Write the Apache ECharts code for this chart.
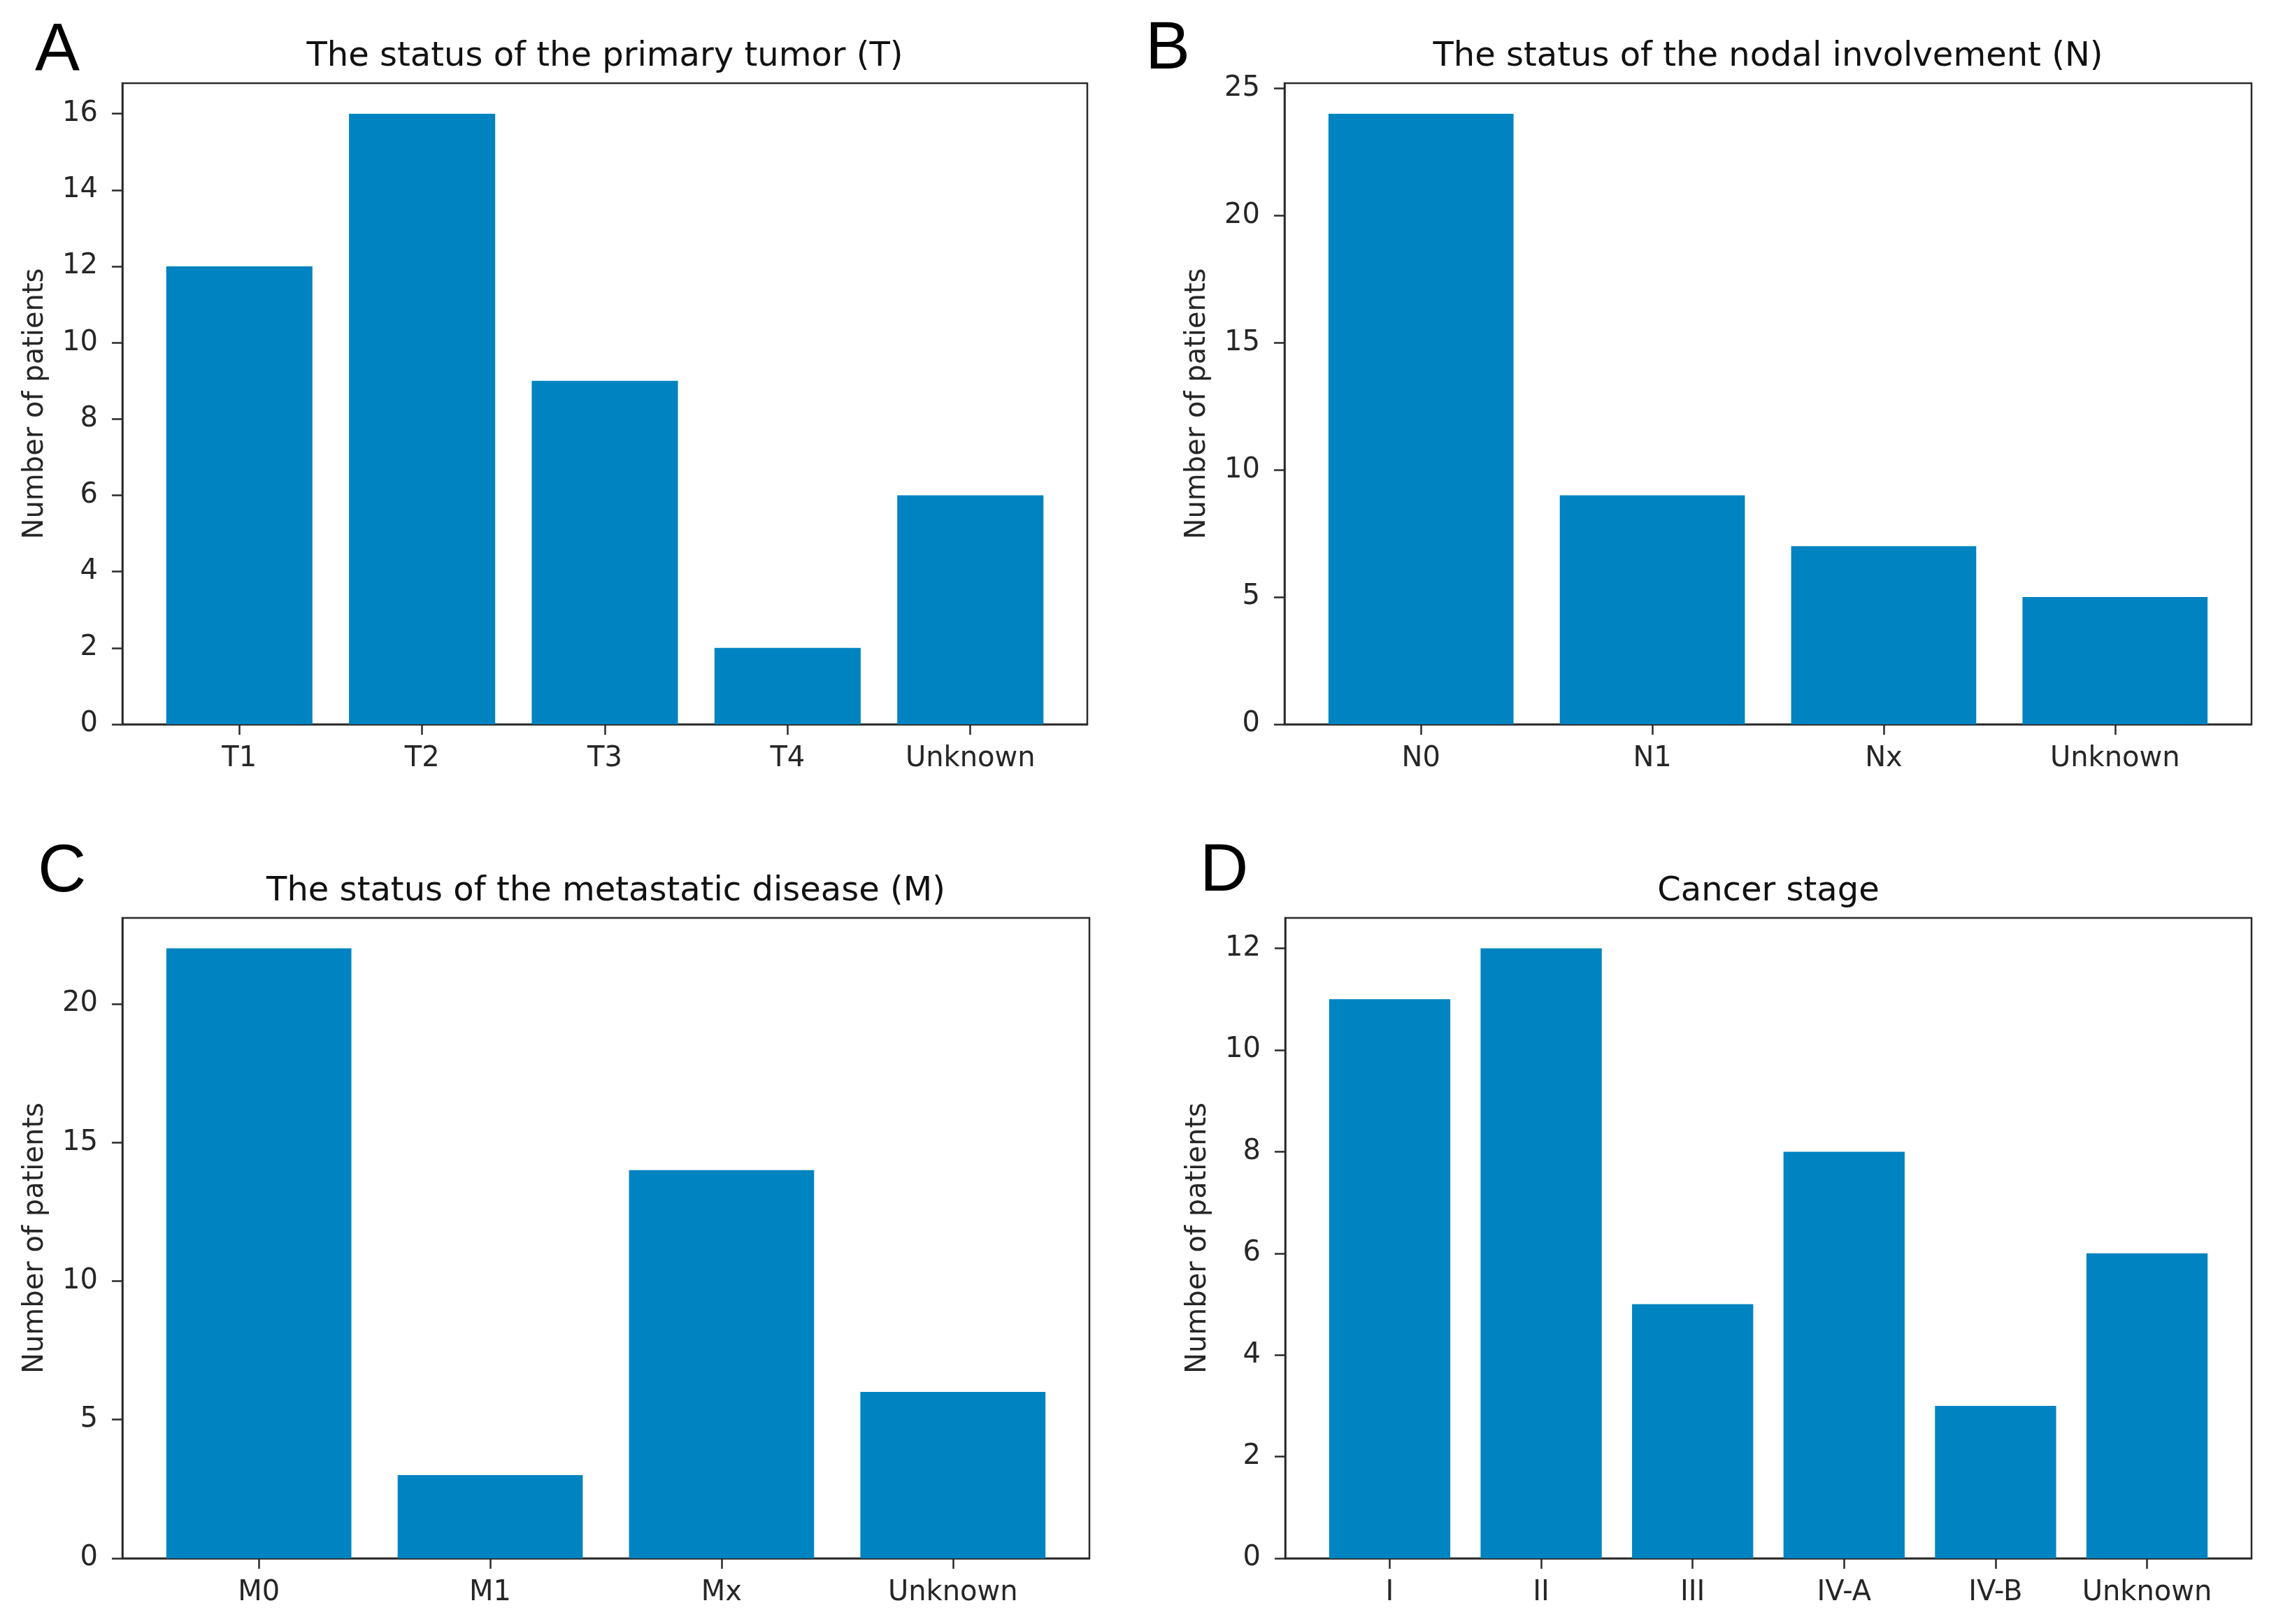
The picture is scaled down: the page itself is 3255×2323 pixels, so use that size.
<!DOCTYPE html>
<html>
<head>
<meta charset="utf-8">
<script src="https://cdn.jsdelivr.net/npm/echarts@6/dist/echarts.min.js"></script>
<style>
html,body{margin:0;padding:0;background:#fff;}
#chart{width:3255px;height:2323px;}
</style>
</head>
<body>
<div id="chart"></div>
<script>
// ---- Data ----
const tCategories = ['T1', 'T2', 'T3', 'T4', 'Unknown'];
const tValues = [12, 16, 9, 2, 6];
const tTicks = [0, 2, 4, 6, 8, 10, 12, 14, 16];

const nCategories = ['N0', 'N1', 'Nx', 'Unknown'];
const nValues = [24, 9, 7, 5];
const nTicks = [0, 5, 10, 15, 20, 25];

const mCategories = ['M0', 'M1', 'Mx', 'Unknown'];
const mValues = [22, 3, 14, 6];
const mTicks = [0, 5, 10, 15, 20];

const stageCategories = ['I', 'II', 'III', 'IV-A', 'IV-B', 'Unknown'];
const stageValues = [11, 12, 5, 8, 3, 6];
const stageTicks = [0, 2, 4, 6, 8, 10, 12];

const titles = [
  'The status of the primary tumor (T)',
  'The status of the nodal involvement (N)',
  'The status of the metastatic disease (M)',
  'Cancer stage'
];
const panelLetters = ['A', 'B', 'C', 'D'];
const yAxisName = 'Number of patients';

// ---- Layout (pixels) ----
const panels = [
  {cats: tCategories, vals: tValues, ticks: tTicks, grid: {left: 175, top: 119, width: 1380, height: 917}, letter: {x: 50, y: 74}},
  {cats: nCategories, vals: nValues, ticks: nTicks, grid: {left: 1837, top: 119, width: 1383, height: 917}, letter: {x: 1638, y: 72}},
  {cats: mCategories, vals: mValues, ticks: mTicks, grid: {left: 175, top: 1313, width: 1383, height: 916}, letter: {x: 54, y: 1249}},
  {cats: stageCategories, vals: stageValues, ticks: stageTicks, grid: {left: 1838, top: 1313, width: 1382, height: 916}, letter: {x: 1716, y: 1248}}
];

const FONT = '"DejaVu Sans", sans-serif';
const TEXT = '#262626';
const SPINE = '#2a2a2a';
const BAR = '#0083c1';

const grids = [], xAxes = [], yAxes = [], series = [], graphics = [];

panels.forEach((p, i) => {
  const n = p.cats.length;
  const span = (n - 1) + 0.8;
  const margin = 0.05 * span;
  const ymax = Math.max(...p.vals) * 1.05;
  const idx = p.cats.map((c, k) => k);

  grids.push(Object.assign({show: true, borderColor: SPINE, borderWidth: 2.5, backgroundColor: 'transparent', containLabel: false}, p.grid));

  xAxes.push({
    type: 'value', gridIndex: i,
    min: -0.4 - margin, max: (n - 1) + 0.4 + margin,
    splitLine: {show: false},
    axisLine: {show: true, onZero: false, lineStyle: {color: SPINE, width: 2.5}},
    axisTick: {show: true, customValues: idx, length: 15, lineStyle: {color: SPINE, width: 2.5}},
    axisLabel: {show: true, customValues: idx, margin: 30, fontSize: 40, fontFamily: FONT, color: TEXT,
      formatter: v => p.cats[Math.round(v)]}
  });

  yAxes.push({
    type: 'value', gridIndex: i,
    min: 0, max: ymax,
    name: yAxisName, nameLocation: 'middle', nameGap: 104, nameRotate: 90,
    nameTextStyle: {fontSize: 40, fontFamily: FONT, color: TEXT},
    splitLine: {show: false},
    axisLine: {show: true, onZero: false, lineStyle: {color: SPINE, width: 2.5}},
    axisTick: {show: true, customValues: p.ticks, length: 15, lineStyle: {color: SPINE, width: 2.5}},
    axisLabel: {show: true, customValues: p.ticks, margin: 35, fontSize: 40, fontFamily: FONT, color: TEXT}
  });

  series.push({
    type: 'bar', xAxisIndex: i, yAxisIndex: i,
    barWidth: '80%',
    itemStyle: {color: BAR},
    data: p.vals.map((v, k) => [k, v])
  });

  graphics.push({
    type: 'text',
    x: p.grid.left + p.grid.width / 2, y: p.grid.top - 37,
    style: {text: titles[i], font: '48px ' + FONT, fill: '#111', textAlign: 'center', textVerticalAlign: 'middle'}
  });
  graphics.push({
    type: 'text',
    x: p.letter.x, y: p.letter.y,
    style: {text: panelLetters[i], font: '96px "Liberation Sans", Arial, sans-serif', fill: '#000', textAlign: 'left', textVerticalAlign: 'middle'}
  });
});

const chart = echarts.init(document.getElementById('chart'), null, {renderer: 'canvas', devicePixelRatio: 1});
chart.setOption({
  animation: false,
  backgroundColor: '#fff',
  grid: grids,
  xAxis: xAxes,
  yAxis: yAxes,
  series: series,
  graphic: graphics
});
</script>
</body>
</html>
